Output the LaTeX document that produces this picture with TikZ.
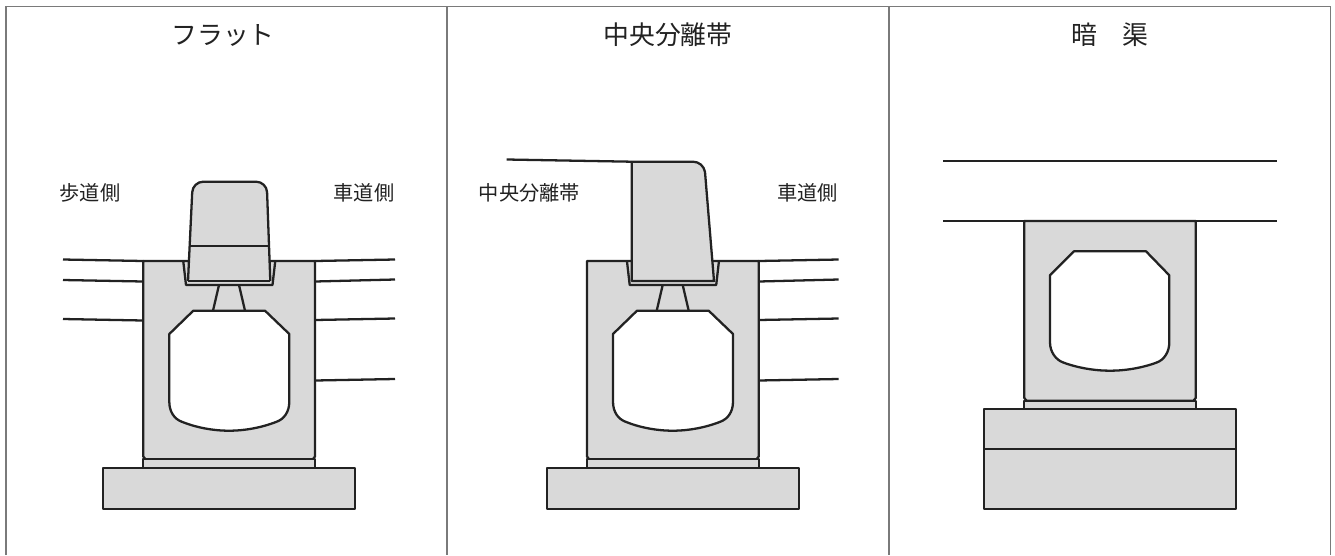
\documentclass[tikz,border=0pt]{standalone}
\usepackage{fontspec}
\usepackage{xcolor}
\newfontfamily\jpfont{Noto Sans CJK JP}
\definecolor{concrete}{HTML}{D9D9D9}
\definecolor{framegray}{HTML}{7A7A7A}
\definecolor{inkgray}{HTML}{222222}
\begin{document}
\begin{tikzpicture}[x=0.02cm,y=0.02cm]
\tikzset{
  every node/.style={inner sep=0pt,text=inkgray},
  frameline/.style={framegray,line width=0.8pt},
  outline/.style={inkgray,line width=1.3pt,line join=round},
  solid part/.style={outline,fill=concrete},
  title/.style={font=\jpfont\fontsize{14.7}{16}\selectfont},
  sidelabel/.style={font=\jpfont\fontsize{11.5}{13}\selectfont}
}
\useasboundingbox (0,0) rectangle (1335,-555);
% frame
\draw [frameline] (6,-555) -- (6,-6.5) -- (1330.7,-6.5) -- (1330.7,-555);
\draw [frameline] (447,-6.5) -- (447,-555);
\draw [frameline] (889,-6.5) -- (889,-555);
% titles
\node [title] (flat) at (223,-35) {フラット};
\node [title] (median) at (668,-35) {中央分離帯};
\node [title] (covered) at (1110,-35) {暗　渠};
% side labels
\node [sidelabel] (walk) at (90,-193) {歩道側};
\node [sidelabel] (road1) at (364,-193) {車道側};
\node [sidelabel] (strip) at (529.5,-193) {中央分離帯};
\node [sidelabel] (road2) at (807.5,-193) {車道側};
% same culvert body in the first two panels
\foreach \dx in {0,443.7} {
\begin{scope}[shift={(\dx,0)}]
\draw [solid part] (143.3,-261) -- (143.3,-456.5) -- (145.5,-459.3) -- (312.8,-459.3) -- (315,-456.5) -- (315,-261) -- cycle;
\draw [solid part] (143.3,-459.3) rectangle (315,-467.7);
\draw [solid part] (103.3,-467.7) rectangle (355,-508.7);
\draw [outline,fill=white] (193.3,-310.7) -- (265,-310.7) -- (289.3,-334) -- (289.3,-401.7)
  .. controls (289.3,-412) and (284,-419) .. (276.7,-421.7)
  .. controls (262,-427.5) and (245,-430.7) .. (229,-430.7)
  .. controls (213,-430.7) and (196,-427.5) .. (181.7,-421.7)
  .. controls (174.5,-419) and (169.3,-412) .. (169.3,-401.7)
  -- (169.3,-334) -- cycle;
\draw [outline] (183.3,-261.5) -- (186,-285) -- (272.5,-285) -- (275.2,-261.5);
\draw [outline] (219,-285) -- (213,-310.7);
\draw [outline] (239,-285) -- (245,-310.7);
\draw [outline] (315,-261) -- (395,-259.5);
\draw [outline] (315,-281.5) -- (395,-279.5);
\draw [outline] (315,-320) -- (395,-318.5);
\draw [outline] (315,-380.5) -- (395,-379);
\end{scope}
}
% flat panel
\draw [outline] (63,-259.5) -- (143.3,-261);
\draw [outline] (63,-280) -- (143.3,-281.5);
\draw [outline] (63,-319) -- (143.3,-320.5);
\draw [solid part,rounded corners=6pt] (188,-281) -- (192.7,-181.7) -- (266.7,-181.7) -- (270.3,-281);
\draw [outline] (188,-281) -- (270.3,-281);
\draw [outline] (189.5,-245.7) -- (268.9,-245.7);
% median panel
\draw [outline] (506.7,-159.5) -- (631.7,-161.7);
\draw [solid part] (631.7,-281) -- (631.7,-161.7) -- (693,-161.7) .. controls (699,-161.7) and (704,-166) .. (705,-172) -- (714,-281) -- cycle;
% covered panel
\draw [outline] (943.3,-160.7) -- (1276.7,-160.7);
\draw [solid part] (1024.3,-221) -- (1024.3,-398) -- (1026.5,-400.7) -- (1193.5,-400.7) -- (1195.7,-398) -- (1195.7,-221) -- cycle;
\draw [outline] (943.3,-221) -- (1276.7,-221);
\draw [solid part] (1024.3,-400.7) rectangle (1195.7,-408.7);
\draw [solid part] (984.3,-408.7) rectangle (1235.7,-508.7);
\draw [outline] (984.3,-449.3) -- (1235.7,-449.3);
\draw [outline,fill=white] (1074,-251.3) -- (1146,-251.3) -- (1169.3,-275.3) -- (1169.3,-342.5)
  .. controls (1169.3,-352) and (1164,-360) .. (1156.7,-362.5)
  .. controls (1142,-368) and (1125,-370.7) .. (1110,-370.7)
  .. controls (1095,-370.7) and (1078,-368) .. (1063.3,-362.5)
  .. controls (1056,-360) and (1050,-352) .. (1050,-342.5)
  -- (1050,-275.3) -- cycle;
\end{tikzpicture}
\end{document}
